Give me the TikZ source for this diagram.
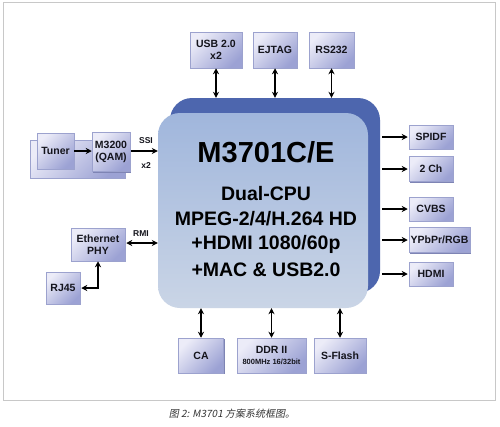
\documentclass[tikz,border=0pt]{standalone}
\usepackage{fontspec}
\setmainfont{Liberation Sans}
\newfontfamily\cjk[FakeSlant=0.2]{Noto Sans CJK SC}
\usetikzlibrary{arrows.meta,shadows}
\definecolor{boxlight}{HTML}{ECECF8}
\definecolor{boxdark}{HTML}{9CA2D4}
\definecolor{boxedge}{HTML}{9CA2CE}
\definecolor{boxshadow}{HTML}{7E84B4}
\definecolor{chipback}{HTML}{4D66AE}
\definecolor{chiptop}{HTML}{A0B6DC}
\definecolor{chipbot}{HTML}{CAD5E6}
\definecolor{framegray}{HTML}{C8C8C8}
\definecolor{txt}{HTML}{14141C}
\begin{document}
\begin{tikzpicture}[x=1pt,y=-1pt,
  blk/.style={draw=boxedge, line width=0.5pt, top color=boxlight, bottom color=boxdark,
    shading angle=45, general shadow={fill=boxshadow, shadow xshift=1.3pt, shadow yshift=-1.3pt},
    font=\bfseries\fontsize{10.5}{11.5}\selectfont, text=txt, align=center, inner sep=0pt},
  lbl/.style={font=\bfseries\fontsize{8.5}{9}\selectfont, text=txt, inner sep=0pt},
  chiptxt/.style={font=\bfseries\fontsize{19.5}{21}\selectfont, text=black, inner sep=0pt},
  arr/.style={line width=1.3pt, -{Stealth[length=6pt,width=6pt]}},
  darr/.style={line width=1.3pt, {Stealth[length=6pt,width=6pt]}-{Stealth[length=6pt,width=6pt]}}
]
\useasboundingbox (0,0) rectangle (500,426);
\fill[white] (0,0) rectangle (500,426);
\draw[framegray, line width=0.8pt] (3,2) rectangle (495,400);

% chip
\node[fill=chipback, rounded corners=22pt, minimum width=210pt, minimum height=195pt, inner sep=0pt] (back) at (275,195.5) {};
\node[top color=chiptop, bottom color=chipbot, rounded corners=22pt, minimum width=210pt, minimum height=195pt, inner sep=0pt] (front) at (263,210.5) {};
\node[font=\bfseries\fontsize{29}{31}\selectfont, inner sep=0pt] (t1) at (266,152) {M3701C/E};
\node[chiptxt] (t2) at (266,194) {Dual-CPU};
\node[chiptxt] (t3) at (266,219) {MPEG-2/4/H.264 HD};
\node[chiptxt] (t4) at (266,244) {+HDMI 1080/60p};
\node[chiptxt] (t5) at (266,270) {+MAC \& USB2.0};

% top boxes
\node[blk, minimum width=52pt, minimum height=36pt] (usb) at (216,50) {USB 2.0\\x2};
\node[blk, minimum width=44pt, minimum height=36pt] (ejtag) at (275,50) {EJTAG};
\node[blk, minimum width=45pt, minimum height=36pt] (rs) at (331.5,50) {RS232};
\draw[darr] (usb.south) -- (usb.south |- back.north);
\draw[darr] (ejtag.south) -- (ejtag.south |- back.north);
\draw[darr] (rs.south) -- (rs.south |- back.north);

% right boxes
\node[blk, minimum width=44pt, minimum height=24pt] (spdif) at (431,137) {SPIDF};
\node[blk, minimum width=44pt, minimum height=25pt] (ch2) at (431,169) {2 Ch};
\node[blk, minimum width=44pt, minimum height=24pt] (cvbs) at (431,209) {CVBS};
\node[blk, minimum width=61pt, minimum height=25pt] (ypbpr) at (439.5,240) {YPbPr/RGB};
\node[blk, minimum width=44pt, minimum height=24pt] (hdmi) at (431,274) {HDMI};
\foreach \n in {spdif,ch2,cvbs,ypbpr,hdmi}{
  \draw[arr] ([xshift=2pt]back.east |- \n.west) -- ([xshift=-1pt]\n.west);
}

% bottom boxes
\node[blk, minimum width=45pt, minimum height=35pt] (ca) at (201,355.5) {CA};
\node[blk, minimum width=69pt, minimum height=35pt] (ddr) at (271.5,355.5) {DDR II\\[-1pt]{\fontsize{7.5}{8}\selectfont 800MHz 16/32bit}};
\node[blk, minimum width=52pt, minimum height=35pt] (sflash) at (340,355.5) {S-Flash};
\draw[darr] (ca.north) -- (ca.north |- front.south);
\draw[darr] (ddr.north) -- (ddr.north |- front.south);
\draw[darr] (sflash.north) -- (sflash.north |- front.south);

% left: tuner chain
\node[blk, minimum width=95pt, minimum height=38pt] (panel) at (77.5,159) {};
\node[blk, minimum width=37pt, minimum height=36pt] (tuner) at (55.5,151) {Tuner};
\node[blk, minimum width=38pt, minimum height=39pt] (m3200) at (111,152) {M3200\\(QAM)};
\draw[arr] (tuner.east) -- (tuner.east -| m3200.west);
\draw[arr] ([xshift=1pt]m3200.east |- tuner.east) -- (front.west |- tuner.east);
\node[lbl] (ssi) at (146,141) {SSI};
\node[lbl] (x2) at (146,166) {x2};

% left: ethernet
\node[blk, minimum width=54pt, minimum height=33pt] (phy) at (98,244.5) {Ethernet\\PHY};
\node[blk, minimum width=34pt, minimum height=32pt] (rj) at (63,288) {RJ45};
\draw[darr] ([xshift=1pt]phy.east |- 0,243) -- (front.west |- 0,243);
\node[lbl] (rmi) at (141,234) {RMI};
\draw[darr] (phy.south) |- ([xshift=1pt]rj.east);

% caption
\node[font=\cjk\fontsize{10}{12}\selectfont, text=black!80, inner sep=0pt] (cap) at (232,414) {图 2: M3701 方案系统框图。};
\end{tikzpicture}
\end{document}
